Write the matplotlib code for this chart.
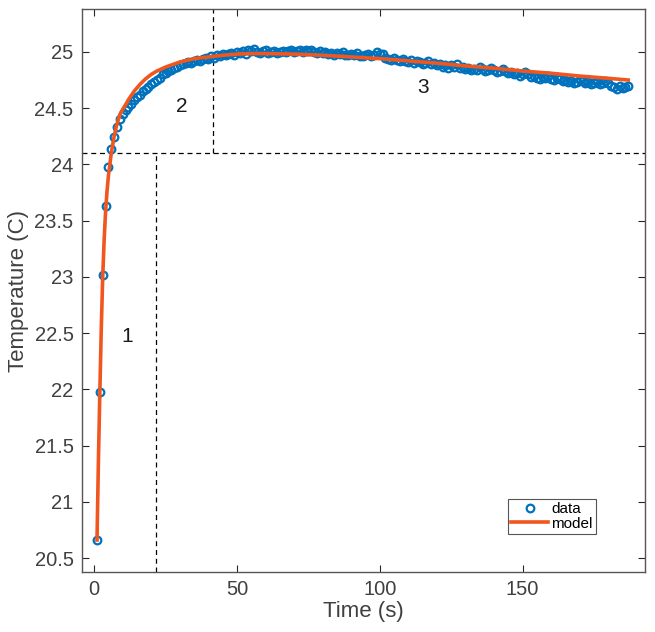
import numpy as np
import matplotlib
matplotlib.use("Agg")
import matplotlib.pyplot as plt

plt.rcParams['font.family'] = ['Liberation Sans', 'DejaVu Sans']

# measured temperature, one sample per second
time_s = np.arange(1, 188)
temp_data = [
    20.66, 21.98, 23.02, 23.63, 23.98, 24.14, 24.24, 24.33, 24.40, 24.45,
    24.48, 24.51, 24.54, 24.57, 24.60, 24.62, 24.65, 24.67, 24.69, 24.71,
    24.73, 24.75, 24.77, 24.80, 24.81, 24.83, 24.84, 24.86, 24.87, 24.88,
    24.89, 24.90, 24.91, 24.90, 24.92, 24.93, 24.92, 24.94, 24.95, 24.94,
    24.96, 24.95, 24.97, 24.96, 24.98, 24.97, 24.98, 24.99, 24.97, 25.00,
    24.99, 25.01, 24.98, 25.02, 25.01, 25.03, 25.00, 24.99, 25.01, 25.02,
    24.99, 25.00, 25.01, 24.99, 25.00, 25.01, 25.00, 25.01, 25.02, 25.00,
    25.01, 25.02, 25.00, 25.02, 25.01, 25.02, 25.00, 24.99, 25.01, 24.99,
    25.00, 24.98, 24.99, 24.97, 24.99, 24.98, 25.00, 24.97, 24.97, 24.98,
    24.97, 24.99, 24.96, 24.96, 24.97, 24.98, 24.96, 24.97, 25.00, 24.98,
    24.98, 24.95, 24.94, 24.93, 24.95, 24.93, 24.92, 24.94, 24.92, 24.91,
    24.93, 24.90, 24.92, 24.91, 24.89, 24.90, 24.92, 24.89, 24.90, 24.88,
    24.89, 24.87, 24.88, 24.86, 24.88, 24.87, 24.89, 24.86, 24.87, 24.85,
    24.86, 24.84, 24.85, 24.84, 24.87, 24.85, 24.83, 24.84, 24.86, 24.84,
    24.82, 24.83, 24.85, 24.83, 24.81, 24.82, 24.80, 24.81, 24.79, 24.80,
    24.82, 24.80, 24.78, 24.79, 24.77, 24.76, 24.78, 24.77, 24.79, 24.76,
    24.75, 24.77, 24.76, 24.74, 24.75, 24.73, 24.74, 24.72, 24.73, 24.75,
    24.74, 24.72, 24.73, 24.71, 24.72, 24.73, 24.71, 24.72, 24.74, 24.72,
    24.70, 24.69, 24.67, 24.70, 24.68, 24.69, 24.70,
]

# fitted model
model_t = [1, 1.5, 2, 2.5, 3, 3.5, 4, 4.5, 5, 6, 7, 8, 9, 10, 11, 12, 14, 16,
           18, 20, 22, 25, 30, 35, 40, 45, 50, 55, 60, 70, 80, 90, 100, 110,
           120, 130, 140, 150, 160, 170, 180, 187]
model_temp = [20.66, 21.38, 21.98, 22.55, 23.00, 23.33, 23.58, 23.76, 23.90,
              24.10, 24.25, 24.36, 24.44, 24.49, 24.53, 24.575, 24.65, 24.71,
              24.76, 24.80, 24.83, 24.865, 24.91, 24.94, 24.955, 24.97, 24.98,
              24.985, 24.985, 24.98, 24.97, 24.955, 24.94, 24.92, 24.90,
              24.875, 24.855, 24.83, 24.81, 24.785, 24.765, 24.75]

# region boundaries and labels
t_split1, t_split2, temp_split = 21.5, 41.5, 24.1
region_labels = ['1', '2', '3']
region_pos = [(11.5, 22.47), (30.7, 24.51), (115, 24.68)]

fig = plt.figure(figsize=(6.55, 6.32), dpi=100)
ax = fig.add_axes([0.125, 0.095, 0.859, 0.890])

ax.plot(time_s, temp_data, 'o', mfc='none', mec='#0072BD', mew=1.6, ms=5.5,
        label='data', zorder=3)
ax.plot(model_t, model_temp, '-', color='#F0561D', lw=2.6, label='model', zorder=4)

xlim = (-4.3, 192.7)
ylim = (20.376, 25.377)
ax.set_xlim(*xlim)
ax.set_ylim(*ylim)

dash = dict(color='black', lw=0.9, ls=(0, (4, 3)), zorder=2)
ax.axhline(temp_split, **dash)
ax.plot([t_split1, t_split1], [ylim[0], temp_split], **dash)
ax.plot([t_split2, t_split2], [temp_split, ylim[1]], **dash)

for lbl, (tx, ty) in zip(region_labels, region_pos):
    ax.text(tx, ty, lbl, fontsize=15, ha='center', va='center', color='#1a1a1a')

ax.set_xticks([0, 50, 100, 150])
ax.set_yticks([20.5, 21, 21.5, 22, 22.5, 23, 23.5, 24, 24.5, 25])
ax.set_yticklabels(['20.5', '21', '21.5', '22', '22.5', '23', '23.5', '24', '24.5', '25'])
ax.tick_params(direction='in', top=True, right=True, length=5, width=0.8,
               colors='#262626', labelsize=14.5, labelcolor='#404040', pad=6)
for sp in ax.spines.values():
    sp.set_color('#555555')
    sp.set_linewidth(1.0)

ax.set_xlabel('Time (s)', fontsize=16, color='#404040', labelpad=1)
ax.set_ylabel('Temperature (C)', fontsize=16, color='#404040', labelpad=4)

leg = ax.legend(loc='lower right', bbox_to_anchor=(0.913, 0.068), fontsize=11,
                fancybox=False, edgecolor='#555555', framealpha=1,
                handlelength=2.4, borderpad=0.2, labelspacing=0.05,
                handletextpad=0.2, borderaxespad=0)
leg.get_frame().set_linewidth(0.8)

fig.savefig('out.png', dpi=100)
